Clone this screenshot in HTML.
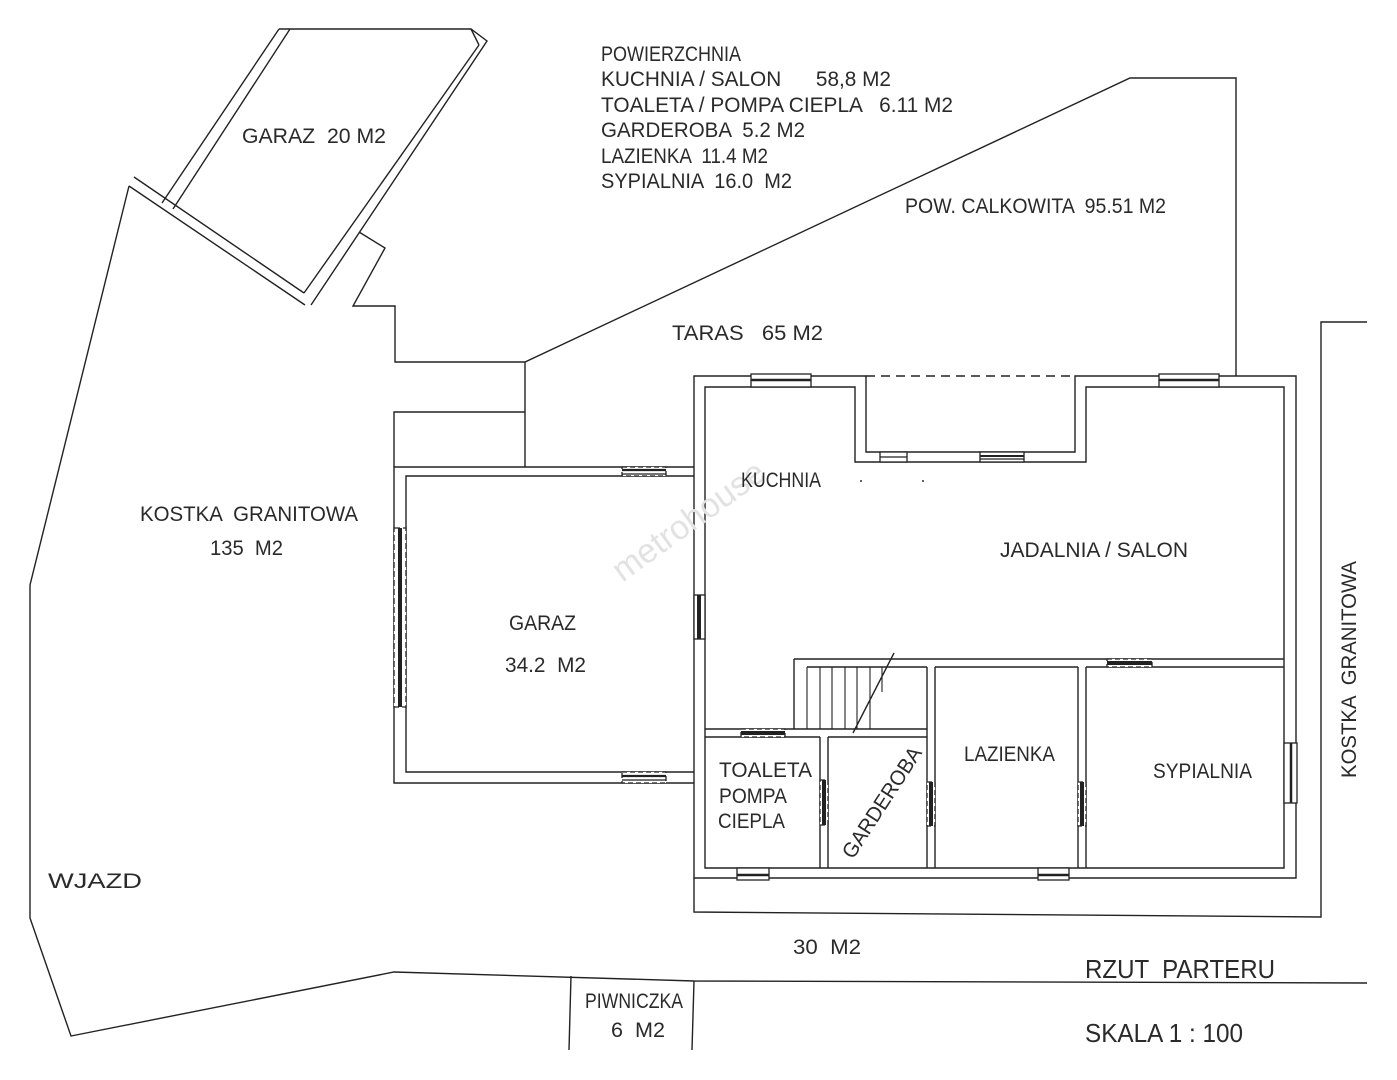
<!DOCTYPE html>
<html><head><meta charset="utf-8"><style>
html,body{margin:0;padding:0;background:#fff;}
svg{display:block;}
text{font-family:"Liberation Sans Narrow","Liberation Sans",sans-serif;fill:#2a2a2a;font-size:21px;}
</style></head><body>
<svg width="1397" height="1080" viewBox="0 0 1397 1080" xmlns="http://www.w3.org/2000/svg">
<rect width="1397" height="1080" fill="#fff"/>
<g fill="none" stroke="#222" stroke-width="1.4">
<!-- small garage -->
<polyline points="279,29 471,29 487,41 311,305"/>
<line x1="471" y1="29" x2="479" y2="45"/>
<line x1="479" y1="45" x2="304" y2="293"/>
<line x1="279" y1="29" x2="162" y2="203"/>
<line x1="290" y1="29" x2="173" y2="209"/>
<line x1="134" y1="177" x2="304" y2="293"/>
<line x1="129" y1="186" x2="305" y2="305"/>
<!-- lot boundary -->
<polyline points="129,186 30,585 30,918 71,1036 394,972 694,981 1367,983"/>
<!-- step region and terrace -->
<polyline points="359,232 385,248 353,306 395,306 395,362 525,362 1130,78 1236,78 1236,376"/>
<line x1="525" y1="362" x2="525" y2="467"/>
<polyline points="394,467 394,412 525,412"/>
<!-- big garage -->
<polyline points="694,467 394,467 394,783 694,783"/>
<polyline points="694,476 406,476 406,772 694,772"/>
<!-- house -->
<polygon points="866,376 694,376 694,878 1296,878 1296,376 1075,376 1075,452 866,452"/>
<polygon points="855,387 705,387 705,868 1284,868 1284,387 1086,387 1086,462 855,462"/>
<line x1="866" y1="376" x2="1075" y2="376" stroke-dasharray="9,6"/>
<!-- outer terrace line bottom/right -->
<polyline points="694,878 694,912 1321,917 1321,322 1367,322"/>
<!-- piwniczka -->
<polyline points="571,976 569,1050"/>
<polyline points="694,981 692,1050"/>
<!-- interior -->
<line x1="794" y1="659" x2="1284" y2="659"/>
<line x1="807" y1="667" x2="927" y2="667"/>
<line x1="935" y1="667" x2="1078" y2="667"/>
<line x1="1086" y1="667" x2="1284" y2="667"/>
<line x1="794" y1="659" x2="794" y2="729"/>
<line x1="705" y1="729" x2="927" y2="729"/>
<line x1="705" y1="737" x2="820" y2="737"/>
<line x1="828" y1="737" x2="927" y2="737"/>
<line x1="820" y1="737" x2="820" y2="868"/>
<line x1="828" y1="737" x2="828" y2="868"/>
<line x1="927" y1="667" x2="927" y2="868"/>
<line x1="935" y1="667" x2="935" y2="868"/>
<line x1="1078" y1="667" x2="1078" y2="868"/>
<line x1="1086" y1="667" x2="1086" y2="868"/>
<g stroke-width="1.1">
<line x1="807" y1="667" x2="807" y2="729"/><line x1="820" y1="667" x2="820" y2="729"/>
<line x1="832" y1="667" x2="832" y2="729"/><line x1="845" y1="667" x2="845" y2="729"/>
<line x1="857" y1="667" x2="857" y2="729"/><line x1="870" y1="667" x2="870" y2="729"/>
<line x1="882" y1="667" x2="882" y2="692"/>
</g>
<line x1="894" y1="653" x2="853" y2="733"/>
</g>
<!-- windows / doors -->
<g stroke="#222" stroke-width="1.3">
<!-- top windows -->
<rect x="751" y="374" width="60" height="13" fill="#fff"/><line x1="751" y1="380" x2="811" y2="380" stroke-width="2.5"/>
<rect x="1159" y="374" width="60" height="13" fill="#fff"/><line x1="1159" y1="380" x2="1219" y2="380" stroke-width="2.5"/>
<rect x="880" y="452" width="27" height="10" fill="#fff"/><line x1="880" y1="457" x2="907" y2="457"/>
<rect x="980" y="452" width="44" height="10" fill="#fff"/><line x1="980" y1="456" x2="1024" y2="456" stroke-width="2"/><line x1="980" y1="459" x2="1024" y2="459"/>
<!-- garage windows -->
<rect x="622" y="467" width="44" height="9" fill="#fff" stroke-dasharray="5,3"/><line x1="622" y1="470" x2="666" y2="470" stroke-width="2.2"/><line x1="622" y1="474" x2="666" y2="474"/>
<rect x="622" y="772" width="44" height="11" fill="#fff" stroke-dasharray="5,3"/><line x1="622" y1="776" x2="666" y2="776" stroke-width="2.2"/><line x1="622" y1="780" x2="666" y2="780"/>
<!-- garage left door -->
<rect x="394" y="528" width="12" height="179" fill="#fff" stroke-dasharray="6,3"/><line x1="400" y1="528" x2="400" y2="707" stroke-width="4"/>
<!-- house left door -->
<rect x="694" y="595" width="11" height="44" fill="#fff"/><line x1="699" y1="595" x2="699" y2="639" stroke-width="4"/>
<!-- toaleta top door -->
<rect x="741" y="729" width="44" height="8" fill="#fff" stroke-dasharray="5,3"/><line x1="741" y1="733" x2="785" y2="733" stroke-width="4"/>
<!-- interior doors vertical -->
<rect x="820" y="780" width="8" height="45" fill="#fff" stroke-dasharray="5,3"/><line x1="824" y1="780" x2="824" y2="825" stroke-width="4"/>
<rect x="927" y="782" width="8" height="44" fill="#fff" stroke-dasharray="5,3"/><line x1="931" y1="782" x2="931" y2="826" stroke-width="4"/>
<rect x="1078" y="782" width="8" height="44" fill="#fff" stroke-dasharray="5,3"/><line x1="1082" y1="782" x2="1082" y2="826" stroke-width="4"/>
<rect x="1107" y="659" width="45" height="8" fill="#fff" stroke-dasharray="5,3"/><line x1="1107" y1="663" x2="1152" y2="663" stroke-width="4"/>
<!-- right window -->
<rect x="1284" y="743" width="13" height="60" fill="#fff"/><line x1="1291" y1="743" x2="1291" y2="803" stroke-width="2.5"/>
<!-- bottom windows -->
<rect x="737" y="868" width="32" height="12" fill="#fff"/><line x1="737" y1="875" x2="769" y2="875" stroke-width="2.5"/>
<rect x="1038" y="868" width="31" height="12" fill="#fff"/><line x1="1038" y1="875" x2="1069" y2="875" stroke-width="2.5"/>
</g>
<g fill="#333"><circle cx="861" cy="481" r="1"/><circle cx="923" cy="481" r="1"/></g>
<!-- watermark -->
<text x="695" y="530" transform="rotate(-36 695 530)" text-anchor="middle" style="font-family:'Liberation Sans',sans-serif;font-size:34px;fill:#e2e2e2;">metrohouse</text>
<!-- labels -->
<text x="601" y="61" textLength="140" lengthAdjust="spacingAndGlyphs">POWIERZCHNIA</text>
<text x="601" y="86" textLength="290" lengthAdjust="spacingAndGlyphs" style="white-space:pre" xml:space="preserve">KUCHNIA / SALON      58,8 M2</text>
<text x="601" y="112" textLength="352" lengthAdjust="spacingAndGlyphs" xml:space="preserve">TOALETA / POMPA CIEPLA   6.11 M2</text>
<text x="601" y="137" textLength="204" lengthAdjust="spacingAndGlyphs" xml:space="preserve">GARDEROBA  5.2 M2</text>
<text x="601" y="163" textLength="167" lengthAdjust="spacingAndGlyphs" xml:space="preserve">LAZIENKA  11.4 M2</text>
<text x="601" y="188" textLength="191" lengthAdjust="spacingAndGlyphs" xml:space="preserve">SYPIALNIA  16.0  M2</text>
<text x="905" y="213" textLength="261" lengthAdjust="spacingAndGlyphs" xml:space="preserve">POW. CALKOWITA  95.51 M2</text>
<text x="672" y="340" textLength="151" lengthAdjust="spacingAndGlyphs" xml:space="preserve">TARAS   65 M2</text>
<text x="242" y="143" textLength="144" lengthAdjust="spacingAndGlyphs" xml:space="preserve">GARAZ  20 M2</text>
<text x="140" y="521" textLength="218" lengthAdjust="spacingAndGlyphs" xml:space="preserve">KOSTKA  GRANITOWA</text>
<text x="210" y="555" textLength="73" lengthAdjust="spacingAndGlyphs" xml:space="preserve">135  M2</text>
<text x="741" y="487" textLength="80" lengthAdjust="spacingAndGlyphs">KUCHNIA</text>
<text x="509" y="630" textLength="67" lengthAdjust="spacingAndGlyphs">GARAZ</text>
<text x="505" y="672" textLength="81" lengthAdjust="spacingAndGlyphs" xml:space="preserve">34.2  M2</text>
<text x="1000" y="557" textLength="188" lengthAdjust="spacingAndGlyphs" xml:space="preserve">JADALNIA / SALON</text>
<text x="719" y="777" textLength="93" lengthAdjust="spacingAndGlyphs">TOALETA</text>
<text x="719" y="803" textLength="68" lengthAdjust="spacingAndGlyphs">POMPA</text>
<text x="718" y="828" textLength="67" lengthAdjust="spacingAndGlyphs">CIEPLA</text>
<text x="853" y="860" transform="rotate(-57 853 860)" textLength="128" lengthAdjust="spacingAndGlyphs">GARDEROBA</text>
<text x="964" y="761" textLength="91" lengthAdjust="spacingAndGlyphs">LAZIENKA</text>
<text x="1153" y="778" textLength="99" lengthAdjust="spacingAndGlyphs">SYPIALNIA</text>
<text x="1356" y="778" transform="rotate(-90 1356 778)" textLength="217" lengthAdjust="spacingAndGlyphs" xml:space="preserve">KOSTKA  GRANITOWA</text>
<text x="48" y="888" textLength="94" lengthAdjust="spacingAndGlyphs">WJAZD</text>
<text x="793" y="954" textLength="68" lengthAdjust="spacingAndGlyphs" xml:space="preserve">30  M2</text>
<text x="585" y="1008" textLength="98" lengthAdjust="spacingAndGlyphs">PIWNICZKA</text>
<text x="611" y="1037" textLength="54" lengthAdjust="spacingAndGlyphs" xml:space="preserve">6  M2</text>
<text x="1085" y="978" textLength="190" lengthAdjust="spacingAndGlyphs" style="font-size:26px" xml:space="preserve">RZUT  PARTERU</text>
<text x="1085" y="1042" textLength="158" lengthAdjust="spacingAndGlyphs" style="font-size:26px" xml:space="preserve">SKALA 1 : 100</text>
</svg>
</body></html>
